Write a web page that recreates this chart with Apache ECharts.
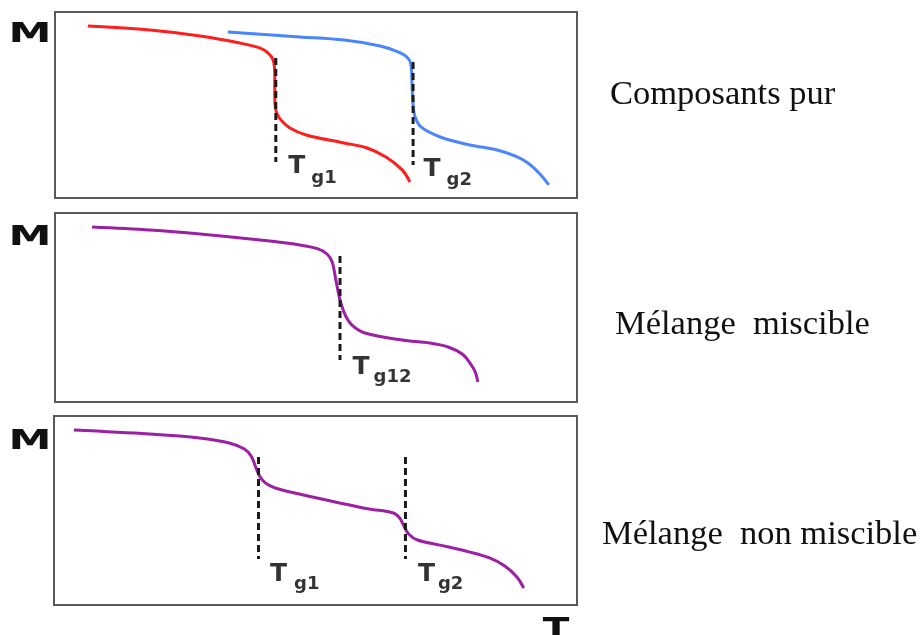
<!DOCTYPE html>
<html>
<head>
<meta charset="utf-8">
<script src="https://cdn.jsdelivr.net/npm/echarts@6/dist/echarts.min.js"></script>
<style>
html,body{margin:0;padding:0;background:#fff;}
#chart{width:923px;height:635px;}
</style>
</head>
<body>
<div id="chart"></div>
<script>
// ---- Data (arbitrary units: T 0-100, M 0-100) ----
// Panel 1 : pure components
const redT  = [6.3, 18.2, 27.8, 35.4, 39.3, 40.8, 41.8, 42.1, 42.1, 42.3, 43.1, 45.0, 48.1, 55.4, 59.8, 63.4, 66.5, 68.0];
const redM  = [92.5, 90.3, 87.1, 83.3, 80.6, 78.0, 74.2, 66.1, 55.4, 47.3, 42.5, 37.6, 33.9, 29.6, 26.9, 22.0, 15.1, 8.6];
const blueT = [33.1, 46.9, 55.4, 62.3, 65.7, 67.6, 68.2, 68.4, 68.6, 69.0, 70.1, 73.8, 79.5, 84.7, 88.1, 90.6, 92.9, 94.6];
const blueM = [89.2, 86.6, 84.9, 81.7, 78.5, 75.3, 71.5, 60.8, 50.0, 43.5, 38.2, 32.8, 28.5, 25.8, 22.6, 18.8, 12.9, 7.0];
// Panel 2 : miscible blend
const mixT  = [7.1, 18.2, 27.8, 39.3, 46.9, 50.4, 52.1, 53.1, 53.8, 54.6, 55.6, 56.9, 59.4, 66.5, 71.8, 75.3, 78.0, 79.5, 80.5, 81.0];
const mixM  = [92.6, 91.0, 88.9, 85.7, 83.1, 81.0, 78.3, 74.1, 64.6, 54.0, 46.0, 40.7, 36.5, 32.8, 31.2, 29.1, 25.4, 20.6, 15.9, 10.6];
// Panel 3 : non-miscible blend
const nonT  = [3.8, 18.2, 27.8, 33.5, 36.4, 37.7, 38.5, 39.3, 40.4, 42.3, 46.9, 54.6, 60.3, 64.9, 66.1, 66.9, 67.8, 69.5, 73.8, 79.5, 83.3, 86.2, 88.5, 89.8];
const nonM  = [92.6, 90.5, 88.4, 85.7, 82.5, 78.8, 73.5, 68.3, 64.6, 61.9, 58.7, 54.0, 50.8, 48.7, 46.0, 41.8, 37.6, 34.4, 31.7, 28.0, 24.9, 20.6, 14.8, 9.0];
// Glass transition markers: [T, Mtop, Mbottom]
const tg1Pure  = [42.3, 75.3, 19.4];
const tg2Pure  = [68.6, 73.1, 17.7];
const tg12Mix  = [54.6, 77.2, 22.2];
const tg1Non   = [39.1, 78.3, 24.3];
const tg2Non   = [67.2, 78.3, 24.3];
const tgNames  = ['g1', 'g2', 'g12', 'g1', 'g2'];
const panelTexts = ['Composants pur', 'Mélange  miscible', 'Mélange  non miscible'];
const axisM = 'M';
const axisT = 'T';

const zip = (a, b) => a.map((v, i) => [v, b[i]]);

const chart = echarts.init(document.getElementById('chart'), null, {renderer: 'canvas'});

const grids = [
  {left: 55, top: 12, width: 522, height: 186},
  {left: 55, top: 213, width: 522, height: 189},
  {left: 54, top: 416, width: 523, height: 189}
].map(g => Object.assign(g, {show: true, borderColor: '#5a5a5a', borderWidth: 2, backgroundColor: 'transparent'}));

const axisCommon = {type: 'value', min: 0, max: 100, axisLine: {show: false}, axisTick: {show: false}, axisLabel: {show: false}, splitLine: {show: false}};
const xAxes = [0, 1, 2].map(i => Object.assign({gridIndex: i}, axisCommon));
const yAxes = [0, 1, 2].map(i => Object.assign({gridIndex: i}, axisCommon));

function curve(idx, T, M, color) {
  return {type: 'line', xAxisIndex: idx, yAxisIndex: idx, data: zip(T, M), smooth: 0.35,
    symbol: 'none', lineStyle: {color: color, width: 3}, z: 3, silent: true};
}
function dashed(idx, tg) {
  return {type: 'line', xAxisIndex: idx, yAxisIndex: idx, data: [[tg[0], tg[1]], [tg[0], tg[2]]],
    symbol: 'none', lineStyle: {color: '#1a1a1a', width: 3, type: [7, 4]}, z: 4, silent: true};
}
// label anchored at the bottom end of the dashed marker
function anchorLabel(idx, tg, text, size, dist, dy) {
  return {type: 'scatter', xAxisIndex: idx, yAxisIndex: idx, data: [[tg[0], tg[2]]],
    symbolSize: 1, itemStyle: {color: 'rgba(0,0,0,0)'}, z: 5, silent: true,
    label: {show: true, position: 'right', distance: dist, offset: [0, dy], formatter: text,
      fontFamily: 'DejaVu Sans', fontWeight: 'bold', fontSize: size, color: '#000'}};
}
function tgLabel(idx, tg, sub, dT, yT, dS, yS) {
  return [anchorLabel(idx, tg, 'T', 25, dT, yT), anchorLabel(idx, tg, sub, 18, dS, yS)];
}

const series = [
  curve(0, redT, redM, '#ff1e1e'),
  curve(0, blueT, blueM, '#4a84ff'),
  curve(1, mixT, mixM, '#9c1fa4'),
  curve(2, nonT, nonM, '#9c1fa4'),
  dashed(0, tg1Pure), dashed(0, tg2Pure), dashed(1, tg12Mix), dashed(2, tg1Non), dashed(2, tg2Non)
].concat(
  tgLabel(0, tg1Pure, tgNames[0], 12, 5, 35, 16),
  tgLabel(0, tg2Pure, tgNames[1], 10, 4, 33, 15),
  tgLabel(1, tg12Mix, tgNames[2], 12, 7, 33, 17),
  tgLabel(2, tg1Non, tgNames[3], 11, 15, 35, 25),
  tgLabel(2, tg2Non, tgNames[4], 12, 15, 32, 25)
);

const mFont = 'bold 27px "DejaVu Sans"';
const serif = '34.5px "Liberation Serif"';
const txt = (x, y, text, font, align, sx) => ({type: 'text', x: x, y: y, scaleX: sx || 1,
  style: {text: text, font: font, fill: '#111', align: align, verticalAlign: 'middle', textAlign: align, textVerticalAlign: 'middle'}});
const graphic = [
  txt(30, 35, axisM, mFont, 'center', 1.6),
  txt(30, 238, axisM, mFont, 'center', 1.6),
  txt(30, 442, axisM, mFont, 'center', 1.6),
  txt(556, 631, axisT, 'bold 30px "DejaVu Sans"', 'center', 1.3),
  txt(610, 95, panelTexts[0], serif, 'left'),
  txt(615, 325, panelTexts[1], serif, 'left'),
  txt(602, 535, panelTexts[2], serif, 'left')
];

chart.setOption({
  backgroundColor: '#ffffff',
  animation: false,
  grid: grids,
  xAxis: xAxes,
  yAxis: yAxes,
  series: series,
  graphic: graphic
});
</script>
</body>
</html>
